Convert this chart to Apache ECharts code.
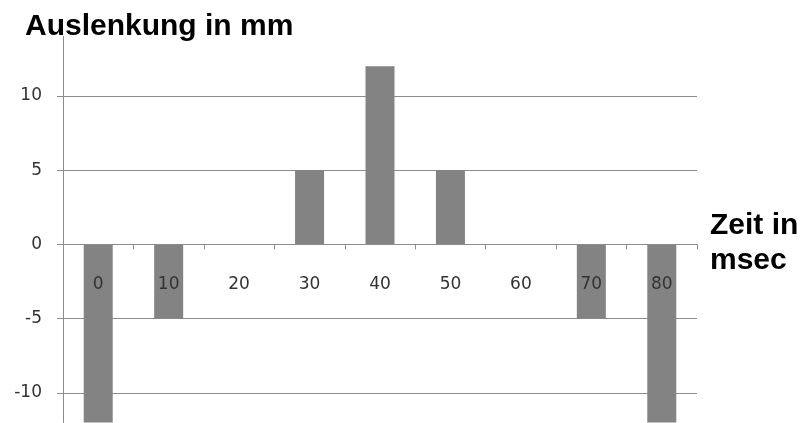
<!DOCTYPE html>
<html>
<head>
<meta charset="utf-8">
<script src="https://cdn.jsdelivr.net/npm/echarts@6/dist/echarts.min.js"></script>
<style>
  html, body { margin: 0; padding: 0; background: #fff; }
  #chart { width: 801px; height: 423px; }
</style>
</head>
<body>
<div id="chart"></div>
<script>
// Zeitpunkte (msec) und Auslenkung (mm)
const zeiten = ['0', '10', '20', '30', '40', '50', '60', '70', '80'];
const auslenkung = [-12, -5, 0, 5, 12, 5, 0, -5, -12];
const yTicks = [-10, -5, 0, 5, 10];
const yMin = -12;
const yMax = 14;

const gridColor = '#8c8c8c';
const labelColor = '#333333';
const labelFont = 'DejaVu Sans';

const gridTop = 36.5;
const gridHeight = 386;
// Zeitachse liegt auf der Nulllinie der Auslenkung
const zeroFromBottom = gridHeight * (0 - yMin) / (yMax - yMin);

const chart = echarts.init(document.getElementById('chart'), null, { renderer: 'canvas' });

chart.setOption({
  animation: false,
  backgroundColor: '#ffffff',
  grid: { left: 63, width: 634, top: gridTop, height: gridHeight, containLabel: false, outerBoundsMode: 'none' },
  xAxis: {
    type: 'category',
    data: zeiten,
    position: 'bottom',
    offset: -zeroFromBottom,
    z: 5,
    boundaryGap: true,
    axisLine: { onZero: false, lineStyle: { color: gridColor, width: 1 } },
    axisTick: { show: true, length: 5, lineStyle: { color: gridColor } },
    axisLabel: { margin: 32, color: labelColor, fontFamily: labelFont, fontSize: 17 },
    splitLine: { show: false }
  },
  yAxis: {
    type: 'value',
    min: yMin,
    max: yMax,
    axisLine: { show: true, lineStyle: { color: gridColor, width: 1 } },
    axisTick: { show: true, length: 6, customValues: yTicks, lineStyle: { color: gridColor } },
    axisLabel: { customValues: yTicks, margin: 21, color: labelColor, fontFamily: labelFont, fontSize: 17 },
    splitLine: { show: true, lineStyle: { color: gridColor, width: 1 } }
  },
  series: [{
    type: 'bar',
    data: auslenkung,
    barWidth: 29,
    itemStyle: { color: '#838383' }
  }],
  graphic: [
    { type: 'text', style: { x: 25, y: 26.3, text: 'Auslenkung in mm', font: 'bold 30px "Liberation Sans"', fill: '#000', verticalAlign: 'middle' } },
    { type: 'text', style: { x: 710, y: 225.6, text: 'Zeit in', font: 'bold 30px "Liberation Sans"', fill: '#000', verticalAlign: 'middle' } },
    { type: 'text', style: { x: 710, y: 260.6, text: 'msec', font: 'bold 30px "Liberation Sans"', fill: '#000', verticalAlign: 'middle' } }
  ]
});
</script>
</body>
</html>
